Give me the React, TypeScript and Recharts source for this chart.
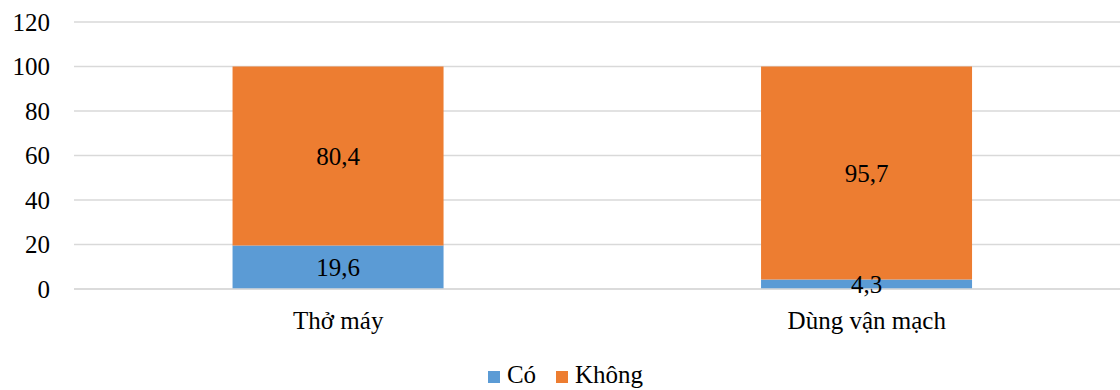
import { BarChart, Bar, XAxis, YAxis, CartesianGrid, Legend, LabelList } from "recharts"

const categories = ["Thở máy", "Dùng vận mạch"]
const coValues = [19.6, 4.3]
const khongValues = [80.4, 95.7]
const yTicks = [0, 20, 40, 60, 80, 100, 120]

const seriesNames = { co: "Có", khong: "Không" }
const colors = { co: "#5B9BD5", khong: "#ED7D31" }

const chartData = categories.map((name, i) => ({
  name,
  co: coValues[i],
  khong: khongValues[i],
}))

const FONT = '"Liberation Serif", Tinos, "Times New Roman", "Nimbus Roman", "DejaVu Serif", serif'

const formatComma = (v: any) => String(v).replace(".", ",")

function LegendContent() {
  // legend drawn by hand so spacing matches the Excel original
  const items = [
    { label: seriesNames.co, color: colors.co },
    { label: seriesNames.khong, color: colors.khong },
  ]
  return (
    <div style={{ display: "flex", justifyContent: "center", gap: 20, paddingTop: 26, fontFamily: FONT, fontSize: 25, color: "#000" }}>
      {items.map((it) => (
        <div key={it.label} style={{ display: "flex", alignItems: "center" }}>
          <span style={{ display: "inline-block", width: 12, height: 12, background: it.color, marginRight: 7, marginTop: 4 }} />
          <span style={{ fontFamily: FONT }}>{it.label}</span>
        </div>
      ))}
    </div>
  )
}

export default function App() {
  return (
    <div style={{ position: "fixed", left: 0, top: 0, width: 1120, height: 390, overflow: "hidden", background: "#fff", fontFamily: FONT }}>
      <BarChart
        width={1140}
        height={390}
        data={chartData}
        barCategoryGap="30%"
        margin={{ top: 22, right: 9, left: 0, bottom: 5 }}
        style={{ fontFamily: FONT }}
      >
        <CartesianGrid vertical={false} stroke="#D9D9D9" strokeWidth={1.5} />
        <XAxis
          dataKey="name"
          axisLine={{ stroke: "#D9D9D9", strokeWidth: 1.5 }}
          tickLine={false}
          tickMargin={16}
          height={46}
          tick={{ fill: "#000", fontSize: 25, fontFamily: FONT }}
        />
        <YAxis
          width={74}
          domain={[0, 120]}
          ticks={yTicks}
          axisLine={false}
          tickLine={false}
          tickMargin={18}
          tick={{ fill: "#000", fontSize: 25, fontFamily: FONT }}
        />
        <Legend verticalAlign="bottom" height={50} content={<LegendContent />} />
        <Bar dataKey="co" name={seriesNames.co} stackId="a" fill={colors.co} isAnimationActive={false}>
          <LabelList dataKey="co" position="center" formatter={formatComma} fill="#000" fontSize={25} fontFamily={FONT} />
        </Bar>
        <Bar dataKey="khong" name={seriesNames.khong} stackId="a" fill={colors.khong} isAnimationActive={false}>
          <LabelList dataKey="khong" position="center" formatter={formatComma} fill="#000" fontSize={25} fontFamily={FONT} />
        </Bar>
      </BarChart>
    </div>
  )
}
